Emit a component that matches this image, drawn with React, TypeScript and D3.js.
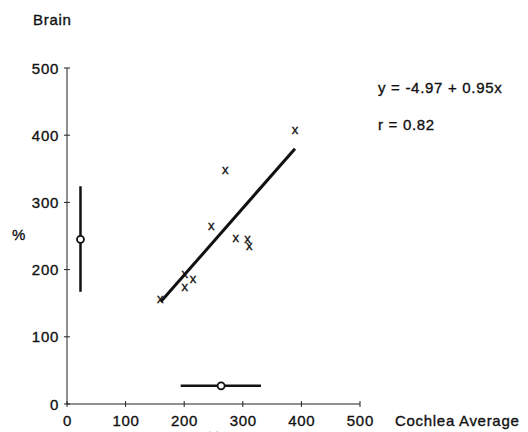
import React from "react";
import * as d3 from "d3";

const xTicks = [0, 100, 200, 300, 400, 500];
const yTicks = [0, 100, 200, 300, 400, 500];
const cochlea = [159, 201, 201, 215, 246, 270, 288, 308, 311, 389];
const brain = [156, 194, 174, 186, 265, 348, 247, 245, 235, 407];
const fitLine = [
  { x: 160, y: 152 },
  { x: 389, y: 380 },
];
const brainBar = { x: 23, mean: 245, lo: 167, hi: 324 };
const cochleaBar = { y: 27, mean: 263, lo: 194, hi: 331 };

const width = 528;
const height = 432;
const font = "'Liberation Sans', Arial, sans-serif";
const ink = "#111";

const App = () => {
  const x = d3.scaleLinear().domain([0, 500]).range([67, 360]);
  const y = d3.scaleLinear().domain([0, 500]).range([404, 68]);
  const line = d3
    .line<{ x: number; y: number }>()
    .x((d) => x(d.x))
    .y((d) => y(d.y));

  // text style, a touch of stroke to mimic the heavy scanned print
  const txt = {
    fill: ink,
    stroke: ink,
    strokeWidth: 0.35,
    fontSize: 15,
    letterSpacing: 0.7,
  };

  return (
    <svg
      width={width}
      height={height}
      style={{ position: "absolute", left: 0, top: 0, background: "#fff" }}
      fontFamily={font}
    >
      <text x={33} y={25} {...txt}>
        Brain
      </text>
      <text x={12} y={240} {...txt}>
        %
      </text>

      {/* axes */}
      <line x1={x(0)} x2={x(0)} y1={y(0)} y2={y(500)} stroke="#222" strokeWidth={1} />
      <line x1={x(0)} x2={x(500)} y1={y(0)} y2={y(0)} stroke="#222" strokeWidth={1} />
      {yTicks.map((t) => (
        <g key={"y" + t}>
          <line x1={x(0) - 3} x2={x(0) + 3} y1={y(t)} y2={y(t)} stroke="#222" />
          <text x={59} y={y(t) + 5.5} textAnchor="end" {...txt}>
            {t}
          </text>
        </g>
      ))}
      {xTicks.map((t) => (
        <g key={"x" + t}>
          <line x1={x(t)} x2={x(t)} y1={y(0) - 3} y2={y(0) + 3} stroke="#222" />
          <text x={x(t) + 0.4} y={426} textAnchor="middle" {...txt}>
            {t}
          </text>
        </g>
      ))}
      <text x={395} y={426} {...txt}>
        Cochlea Average
      </text>
      <text x={207} y={442} {...txt}>
        %
      </text>

      {/* error bars */}
      <line
        x1={x(brainBar.x)}
        x2={x(brainBar.x)}
        y1={y(brainBar.lo)}
        y2={y(brainBar.hi)}
        stroke={ink}
        strokeWidth={2.5}
      />
      <circle cx={x(brainBar.x)} cy={y(brainBar.mean)} r={3.5} fill="#fff" stroke={ink} strokeWidth={1.8} />
      <line
        x1={x(cochleaBar.lo)}
        x2={x(cochleaBar.hi)}
        y1={y(cochleaBar.y)}
        y2={y(cochleaBar.y)}
        stroke={ink}
        strokeWidth={2.5}
      />
      <circle cx={x(cochleaBar.mean)} cy={y(cochleaBar.y)} r={3.5} fill="#fff" stroke={ink} strokeWidth={1.8} />

      {/* regression */}
      <path d={line(fitLine) ?? ""} stroke={ink} strokeWidth={3} fill="none" />

      {cochlea.map((c, i) => (
        <text
          key={i}
          x={x(c)}
          y={y(brain[i]) + 4}
          textAnchor="middle"
          {...txt}
          fontSize={13}
          letterSpacing={0}
        >
          x
        </text>
      ))}

      <text x={378} y={93} {...txt}>
        y = -4.97 + 0.95x
      </text>
      <text x={378} y={130} {...txt}>
        r = 0.82
      </text>
    </svg>
  );
};

export default App;
